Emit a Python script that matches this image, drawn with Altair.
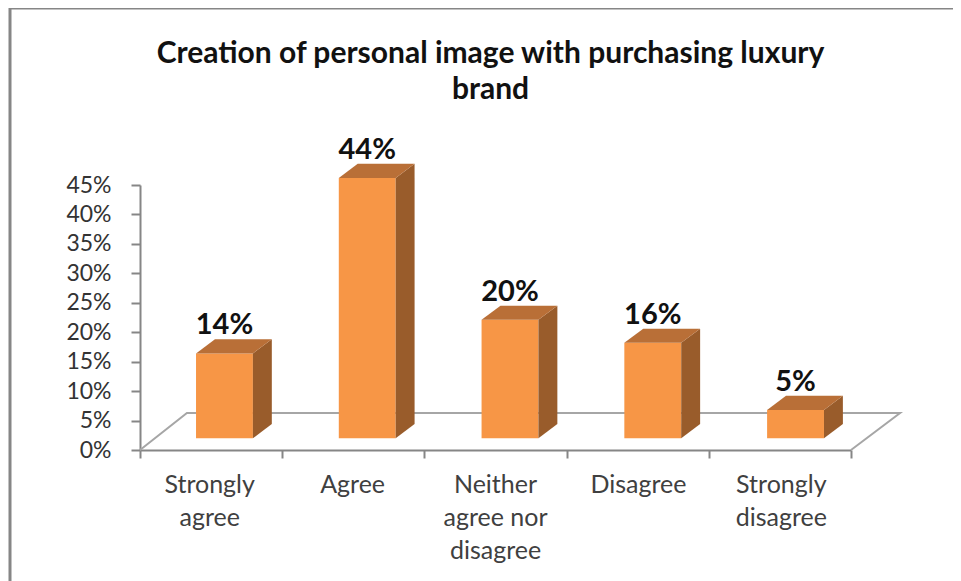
import altair as alt
import pandas as pd

FONT = "Lato"
categories = ["Strongly\nagree", "Agree", "Neither\nagree nor\ndisagree", "Disagree", "Strongly\ndisagree"]
values = [14.4, 44.2, 20.1, 16.2, 4.8]
y_ticks = [0, 5, 10, 15, 20, 25, 30, 35, 40, 45]
x_ticks = [0, 1, 2, 3, 4, 5]
title_lines = ["Creation of personal image with purchasing luxury", "brand"]

FRONT, TOP, SIDE = "#F79646", "#B96F37", "#995C2B"
AXIS = "#868686"
BASE = 2.0      # bar floor height, in % units
DX, DY = 0.133, 2.4  # 3-D depth in axis units
BAR_W = 0.40

xs = alt.Scale(domain=[0, 5], nice=False, zero=False)
ys = alt.Scale(domain=[0, 45], nice=False, zero=False)
x_axis = alt.Axis(values=x_ticks, labels=False, title=None, grid=False,
                  domainColor=AXIS, domainWidth=2, tickColor=AXIS, tickWidth=2, tickSize=8)
y_axis = alt.Axis(values=y_ticks, title=None, grid=False,
                  labelExpr="datum.value + '%'", labelFont=FONT,
                  labelFontSize=23, labelColor="#333333", labelPadding=20,
                  domainColor=AXIS, domainWidth=2, tickColor=AXIS, tickWidth=2, tickSize=9)
X = lambda f: alt.X(f, type="quantitative", scale=xs, axis=x_axis)
Y = lambda f: alt.Y(f, type="quantitative", scale=ys, axis=y_axis)

bars = pd.DataFrame({"value": values})
bars["i"] = range(len(values))
bars["l"] = bars.i * 1.004 + 0.394
bars["r"] = bars.l + BAR_W
bars["c"] = bars.l + BAR_W / 2
bars["b"] = BASE
bars["t"] = bars.value + BASE
bars["t2"] = bars.t + DY
bars["label"] = bars.value.round().astype(int).astype(str) + "%"

rows_side, rows_top = [], []
for _, b in bars.iterrows():
    rows_side += [
        dict(i=b.i, x=b.r, y=b.t, y2=b.b),
        dict(i=b.i, x=b.r + DX, y=b.t2, y2=b.b + DY),
    ]
    rows_top += [
        dict(i=b.i, x=b.l, y=b.t, y2=b.t),
        dict(i=b.i, x=b.l + DX, y=b.t2, y2=b.t),
        dict(i=b.i, x=b.r, y=b.t2, y2=b.t),
        dict(i=b.i, x=b.r + DX, y=b.t2, y2=b.t2),
    ]

floor = pd.DataFrame({"x": [0, 0.33, 5.345, 5.0], "y": [0, 6.28, 6.28, 0], "o": [0, 1, 2, 3]})

floor_line = alt.Chart(floor).mark_line(color="#A6A6A6", strokeWidth=2).encode(
    x=X("x"), y=Y("y"), order="o:Q")

front = alt.Chart(bars).mark_rect(color=FRONT).encode(x=X("l"), x2="r", y=Y("b"), y2="t")
side = alt.Chart(pd.DataFrame(rows_side)).mark_area(color=SIDE, opacity=1).encode(
    x=X("x"), y=Y("y"), y2="y2", detail="i:N")
top = alt.Chart(pd.DataFrame(rows_top)).mark_area(color=TOP, opacity=1).encode(
    x=X("x"), y=Y("y"), y2="y2", detail="i:N")

value_labels = alt.Chart(bars).mark_text(font=FONT, fontSize=29, fontWeight="bold", color="#111111",
                                         baseline="bottom", dy=1).encode(
    x=X("c"), y=Y("t2"), text="label:N")

cat_df = pd.DataFrame({"label": categories, "x": [i * 1.005 + 0.49 for i in range(5)], "y": [0] * 5})
cat_labels = alt.Chart(cat_df).transform_calculate(lines="split(datum.label, '\\n')").mark_text(
    font=FONT, fontSize=25, color="#404040", baseline="top", align="center", lineHeight=33, dy=23
).encode(x=X("x"), y=Y("y"), text="lines:N")

frame_top = alt.Chart(pd.DataFrame({"a": [0]})).mark_rule(color=AXIS, strokeWidth=3).encode(
    x=alt.value(-130), x2=alt.value(813), y=alt.value(-177))
frame_left = alt.Chart(pd.DataFrame({"a": [0]})).mark_rule(color=AXIS, strokeWidth=3).encode(
    x=alt.value(-130), y=alt.value(-177), y2=alt.value(396))

chart = alt.layer(frame_top, frame_left, floor_line, front, side, top, value_labels, cat_labels).properties(
    width=711, height=265,
    autosize=alt.AutoSizeParams(type="none"),
    padding={"left": 132, "top": 177, "right": 102, "bottom": 131},
    title=alt.TitleParams(text=title_lines, font=FONT, fontSize=30, fontWeight="bold", color="#111111",
                          lineHeight=36, anchor="middle", offset=-98, dx=-5),
    background="white",
).configure_view(stroke=None)

chart.save("out.html", embed_options={"renderer": "svg", "actions": False})
